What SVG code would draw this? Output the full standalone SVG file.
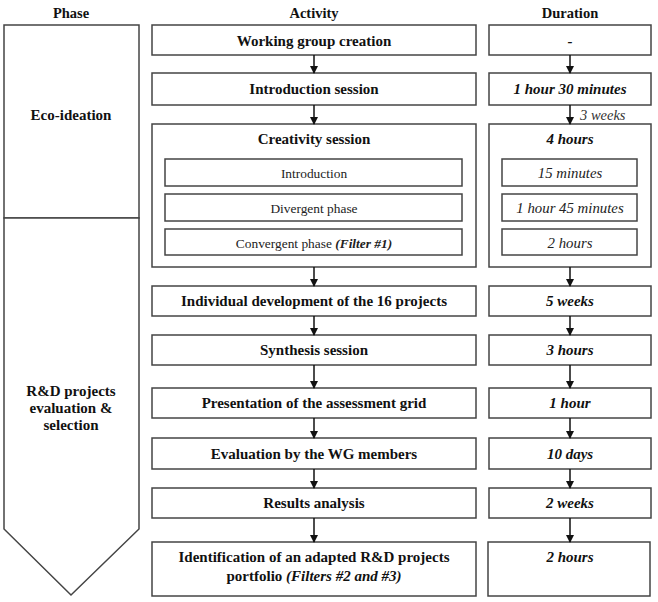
<svg xmlns="http://www.w3.org/2000/svg" width="658" height="602" viewBox="0 0 658 602" font-family="'Liberation Serif', 'Times New Roman', serif">
<style>
.b{fill:#fff;stroke:#444;stroke-width:1.5}
.t{font-family:'Liberation Serif','Times New Roman',serif;font-size:15px;font-weight:bold;fill:#111;text-anchor:middle}
.d{font-family:'Liberation Serif','Times New Roman',serif;font-size:15px;font-weight:bold;font-style:italic;fill:#111;text-anchor:middle}
.s{font-family:'Liberation Serif','Times New Roman',serif;font-size:13.4px;fill:#222;text-anchor:middle}
.si{font-family:'Liberation Serif','Times New Roman',serif;font-size:14.8px;font-style:italic;fill:#222;text-anchor:middle}
.w{font-family:'Liberation Serif','Times New Roman',serif;font-size:14.5px;font-style:italic;fill:#333}
.h{font-family:'Liberation Serif','Times New Roman',serif;font-size:14.5px;font-weight:bold;fill:#111;text-anchor:middle}
.c{stroke:#111;stroke-width:1.5;fill:none}
</style>
<defs>
<marker id="ah" markerWidth="8" markerHeight="8" refX="7" refY="4" orient="auto" markerUnits="userSpaceOnUse"><path d="M0,0 L8,4 L0,8 Z" fill="#111"/></marker>
</defs>
<rect width="658" height="602" fill="#fff"/>
<g id="headers">
<text class="h" x="71" y="18">Phase</text>
<text class="h" x="314" y="18">Activity</text>
<text class="h" x="570" y="18">Duration</text>
</g>
<g id="phase-eco">
<rect class="b" x="4" y="25" width="135" height="193"/>
<text class="t" x="71" y="120">Eco-ideation</text>
</g>
<g id="phase-rd">
<path class="b" d="M4,218 L139,218 L139,529 L71,595 L4,529 Z"/>
<text class="t" x="71" y="396">R&amp;D projects</text>
<text class="t" x="71" y="413">evaluation &amp;</text>
<text class="t" x="71" y="430">selection</text>
</g>
<g id="a1"><rect class="b" x="152" y="25" width="324" height="30"/><text class="t" x="314" y="46">Working group creation</text></g>
<g id="a2"><rect class="b" x="152" y="73" width="324" height="32"/><text class="t" x="314" y="94">Introduction session</text></g>
<g id="a3"><rect class="b" x="152" y="124" width="324" height="143"/><text class="t" x="314" y="144">Creativity session</text>
<rect class="b" x="165" y="159" width="297" height="27"/><text class="s" x="314" y="177.5">Introduction</text>
<rect class="b" x="165" y="194" width="297" height="27"/><text class="s" x="314" y="212.5">Divergent phase</text>
<rect class="b" x="165" y="229" width="297" height="26"/><text class="s" x="314" y="247.5">Convergent phase <tspan font-weight="bold" font-style="italic">(Filter #1)</tspan></text>
</g>
<g id="a4"><rect class="b" x="152" y="286" width="324" height="30"/><text class="t" x="314" y="306">Individual development of the 16 projects</text></g>
<g id="a5"><rect class="b" x="152" y="335" width="324" height="30"/><text class="t" x="314" y="355">Synthesis session</text></g>
<g id="a6"><rect class="b" x="152" y="388" width="324" height="30"/><text class="t" x="314" y="408">Presentation of the assessment grid</text></g>
<g id="a7"><rect class="b" x="152" y="438" width="324" height="31"/><text class="t" x="314" y="459">Evaluation by the WG members</text></g>
<g id="a8"><rect class="b" x="152" y="488" width="324" height="30"/><text class="t" x="314" y="508">Results analysis</text></g>
<g id="a9"><rect class="b" x="152" y="542" width="324" height="54"/><text class="t" x="314" y="562">Identification of an adapted R&amp;D projects</text><text class="t" x="314" y="581">portfolio <tspan font-style="italic">(Filters #2 and #3)</tspan></text></g>
<g id="d1"><rect class="b" x="489" y="25" width="162" height="30"/><text class="d" x="570" y="46">-</text></g>
<g id="d2"><rect class="b" x="489" y="73" width="162" height="32"/><text class="d" x="570" y="94">1 hour 30 minutes</text></g>
<g id="d3"><rect class="b" x="489" y="124" width="162" height="143"/><text class="d" x="570" y="144">4 hours</text>
<rect class="b" x="502" y="159" width="135" height="27"/><text class="si" x="570" y="177.5">15 minutes</text>
<rect class="b" x="502" y="194" width="135" height="27"/><text class="si" x="570" y="212.5">1 hour 45 minutes</text>
<rect class="b" x="502" y="229" width="135" height="26"/><text class="si" x="570" y="247.5">2 hours</text>
</g>
<g id="d4"><rect class="b" x="489" y="286" width="162" height="30"/><text class="d" x="570" y="306">5 weeks</text></g>
<g id="d5"><rect class="b" x="489" y="335" width="162" height="30"/><text class="d" x="570" y="355">3 hours</text></g>
<g id="d6"><rect class="b" x="489" y="388" width="162" height="30"/><text class="d" x="570" y="408">1 hour</text></g>
<g id="d7"><rect class="b" x="489" y="438" width="162" height="31"/><text class="d" x="570" y="459">10 days</text></g>
<g id="d8"><rect class="b" x="489" y="488" width="162" height="30"/><text class="d" x="570" y="508">2 weeks</text></g>
<g id="d9"><rect class="b" x="488" y="542" width="162" height="54"/><text class="d" x="570" y="562">2 hours</text></g>
<g id="connectors">
<line class="c" x1="314" y1="55" x2="314" y2="73" marker-end="url(#ah)"/>
<line class="c" x1="314" y1="105" x2="314" y2="124" marker-end="url(#ah)"/>
<line class="c" x1="314" y1="267" x2="314" y2="286" marker-end="url(#ah)"/>
<line class="c" x1="314" y1="316" x2="314" y2="335" marker-end="url(#ah)"/>
<line class="c" x1="314" y1="365" x2="314" y2="388" marker-end="url(#ah)"/>
<line class="c" x1="314" y1="418" x2="314" y2="438" marker-end="url(#ah)"/>
<line class="c" x1="314" y1="469" x2="314" y2="488" marker-end="url(#ah)"/>
<line class="c" x1="314" y1="518" x2="314" y2="542" marker-end="url(#ah)"/>
<line class="c" x1="570" y1="55" x2="570" y2="73" marker-end="url(#ah)"/>
<line class="c" x1="570" y1="105" x2="570" y2="124" marker-end="url(#ah)"/>
<line class="c" x1="570" y1="267" x2="570" y2="286" marker-end="url(#ah)"/>
<line class="c" x1="570" y1="316" x2="570" y2="335" marker-end="url(#ah)"/>
<line class="c" x1="570" y1="365" x2="570" y2="388" marker-end="url(#ah)"/>
<line class="c" x1="570" y1="418" x2="570" y2="438" marker-end="url(#ah)"/>
<line class="c" x1="570" y1="469" x2="570" y2="488" marker-end="url(#ah)"/>
<line class="c" x1="570" y1="518" x2="570" y2="542" marker-end="url(#ah)"/>
<text class="w" x="580" y="120">3 weeks</text>
</g>
</svg>
